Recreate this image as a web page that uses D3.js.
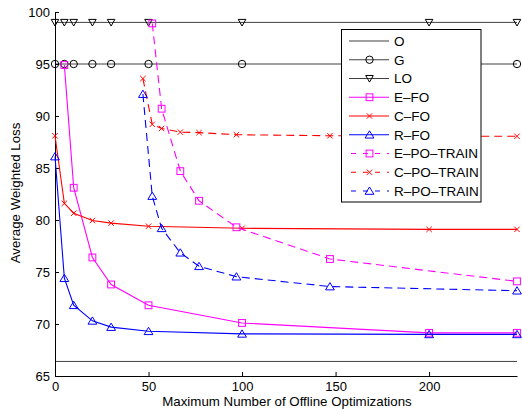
<!DOCTYPE html>
<html>
<head>
<meta charset="utf-8">
<script src="https://cdn.jsdelivr.net/npm/d3@7"></script>
<style>
  html, body { margin: 0; padding: 0; background: #fff; }
  svg { display: block; font-family: "Liberation Sans", Arial, Helvetica, sans-serif; }
</style>
</head>
<body>
<svg id="chart" width="522" height="415"></svg>
<script>
// Offline-optimization budget (x) for the full-offline runs
const xFO = [0, 5, 10, 20, 30, 50, 100, 200, 247];
// Budget for the partial-offline training runs
const xPO = [47, 52, 57, 67, 77, 97, 147, 247];
const xEPO = [52, 57, 67, 77, 97, 147, 247];
const xEFO = [5, 10, 20, 30, 50, 100, 200, 247];

// Reference levels
const yO = [66.4, 66.4];
const xO = [0, 247];
const yG = [95, 95, 95, 95, 95, 95, 95, 95, 95];
const yLO = [99, 99, 99, 99, 99, 99, 99, 99, 99];

// Full-offline series
const yEFO = [94.9, 83.1, 76.4, 73.8, 71.8, 70.1, 69.15, 69.15];
const yCFO = [88.1, 81.6, 80.65, 79.95, 79.7, 79.4, 79.2, 79.1, 79.1];
const yRFO = [86.1, 74.4, 71.8, 70.3, 69.7, 69.3, 69.05, 69.0, 69.0];

// Partial-offline training series
const yEPO = [98.9, 90.7, 84.7, 81.85, 79.3, 76.25, 74.1];
const yCPO = [93.6, 89.2, 88.8, 88.45, 88.4, 88.2, 88.1, 88.05];
const yRPO = [92.1, 82.3, 79.2, 76.85, 75.55, 74.55, 73.6, 73.2];

const xTicks = [0, 50, 100, 150, 200];
const yTicks = [65, 70, 75, 80, 85, 90, 95, 100];

const seriesList = [
  { name: "O",          xs: xO,   ys: yO,   color: "#000", marker: null, dash: null },
  { name: "G",          xs: xFO,  ys: yG,   color: "#000", marker: "o",  dash: null },
  { name: "LO",         xs: xFO,  ys: yLO,  color: "#000", marker: "v",  dash: null },
  { name: "E\u2013FO",  xs: xEFO, ys: yEFO, color: "#ff00ff", marker: "s", dash: null },
  { name: "C\u2013FO",  xs: xFO,  ys: yCFO, color: "#ff0000", marker: "x", dash: null },
  { name: "R\u2013FO",  xs: xFO,  ys: yRFO, color: "#0000ff", marker: "^", dash: null },
  { name: "E\u2013PO\u2013TRAIN", xs: xEPO, ys: yEPO, color: "#ff00ff", marker: "s", dash: "8,5" },
  { name: "C\u2013PO\u2013TRAIN", xs: xPO,  ys: yCPO, color: "#ff0000", marker: "x", dash: "8,5" },
  { name: "R\u2013PO\u2013TRAIN", xs: xPO,  ys: yRPO, color: "#0000ff", marker: "^", dash: "8,5" }
];

const svg = d3.select("#chart");
const plotLeft = 55, plotRight = 517, plotTop = 12, plotBottom = 376;

const x = d3.scaleLinear().domain([0, 247]).range([plotLeft, plotRight]);
const y = d3.scaleLinear().domain([65, 100]).range([plotBottom, plotTop]);

// Axes: left and bottom only, ticks pointing inward
const yAxis = d3.axisLeft(y).tickValues(yTicks).tickSizeInner(-4).tickSizeOuter(0).tickPadding(5);
const xAxis = d3.axisBottom(x).tickValues(xTicks).tickSizeInner(-4).tickSizeOuter(0).tickPadding(6);

const gy = svg.append("g").attr("transform", `translate(${plotLeft},0)`).call(yAxis);
const gx = svg.append("g").attr("transform", `translate(0,${plotBottom})`).call(xAxis);
[gx, gy].forEach(g => {
  g.select(".domain").attr("stroke", "#000").attr("stroke-width", 1);
  g.selectAll(".tick line").attr("stroke", "#000");
  g.selectAll(".tick text").attr("fill", "#000").style("font-size", "13px")
    .style("font-family", '"Liberation Sans", Arial, sans-serif');
});

// Axis titles
svg.append("text")
  .attr("x", (plotLeft + plotRight) / 2 + 1).attr("y", 405.5)
  .attr("text-anchor", "middle").style("font-size", "13.3px")
  .text("Maximum Number of Offline Optimizations");
svg.append("text")
  .attr("transform", `translate(20,${(plotTop + plotBottom) / 2 - 1}) rotate(-90)`)
  .attr("text-anchor", "middle").style("font-size", "13.3px")
  .text("Average Weighted Loss");

function drawMarker(g, type, color, cx, cy) {
  if (type === "o") {
    g.append("circle").attr("cx", cx).attr("cy", cy).attr("r", 3.7)
      .attr("fill", "none").attr("stroke", color).attr("stroke-width", 1);
  } else if (type === "s") {
    g.append("rect").attr("x", cx - 3.4).attr("y", cy - 3.4).attr("width", 6.8).attr("height", 6.8)
      .attr("fill", "none").attr("stroke", color).attr("stroke-width", 1);
  } else if (type === "^") {
    g.append("path").attr("d", `M${cx},${cy - 4}L${cx + 4.4},${cy + 3.3}L${cx - 4.4},${cy + 3.3}Z`)
      .attr("fill", "none").attr("stroke", color).attr("stroke-width", 1);
  } else if (type === "v") {
    g.append("path").attr("d", `M${cx},${cy + 3.6}L${cx + 3.8},${cy - 3}L${cx - 3.8},${cy - 3}Z`)
      .attr("fill", "none").attr("stroke", color).attr("stroke-width", 1);
  } else if (type === "x") {
    const h = 2.7;
    g.append("path").attr("d", `M${cx - h},${cy - h}L${cx + h},${cy + h}M${cx - h},${cy + h}L${cx + h},${cy - h}`)
      .attr("fill", "none").attr("stroke", color).attr("stroke-width", 1);
  }
}

const line = d3.line().x(d => x(d[0])).y(d => y(d[1]));

// Series lines and markers
seriesList.forEach(s => {
  const pts = s.xs.map((v, i) => [v, s.ys[i]]);
  const g = svg.append("g");
  g.append("path").attr("d", line(pts))
    .attr("fill", "none").attr("stroke", s.color)
    .attr("stroke-width", s.color === "#000" ? 1 : 1.1)
    .attr("stroke-opacity", s.color === "#000" ? 0.75 : 1)
    .attr("stroke-dasharray", s.dash);
  if (s.marker) pts.forEach(p => drawMarker(g, s.marker, s.color, x(p[0]), y(p[1])));
});

// Legend box
const lg = svg.append("g");
lg.append("rect").attr("x", 341.5).attr("y", 29.5).attr("width", 139.5).attr("height", 172.5)
  .attr("fill", "#fff").attr("stroke", "#000").attr("stroke-width", 1);
seriesList.forEach((s, i) => {
  const ry = 41 + i * 18.75;
  lg.append("line").attr("x1", 349).attr("x2", 389).attr("y1", ry).attr("y2", ry)
    .attr("stroke", s.color).attr("stroke-width", s.color === "#000" ? 1 : 1.1)
    .attr("stroke-opacity", s.color === "#000" ? 0.75 : 1)
    .attr("stroke-dasharray", s.dash ? "5,7" : null)
    .attr("stroke-dashoffset", s.dash ? -2 : null);
  if (s.marker) drawMarker(lg, s.marker, s.color, 369.5, ry);
  lg.append("text").attr("x", 394).attr("y", ry).attr("dy", "0.36em")
    .style("font-size", "13.5px").attr("fill", "#000").text(s.name);
});
</script>
</body>
</html>
